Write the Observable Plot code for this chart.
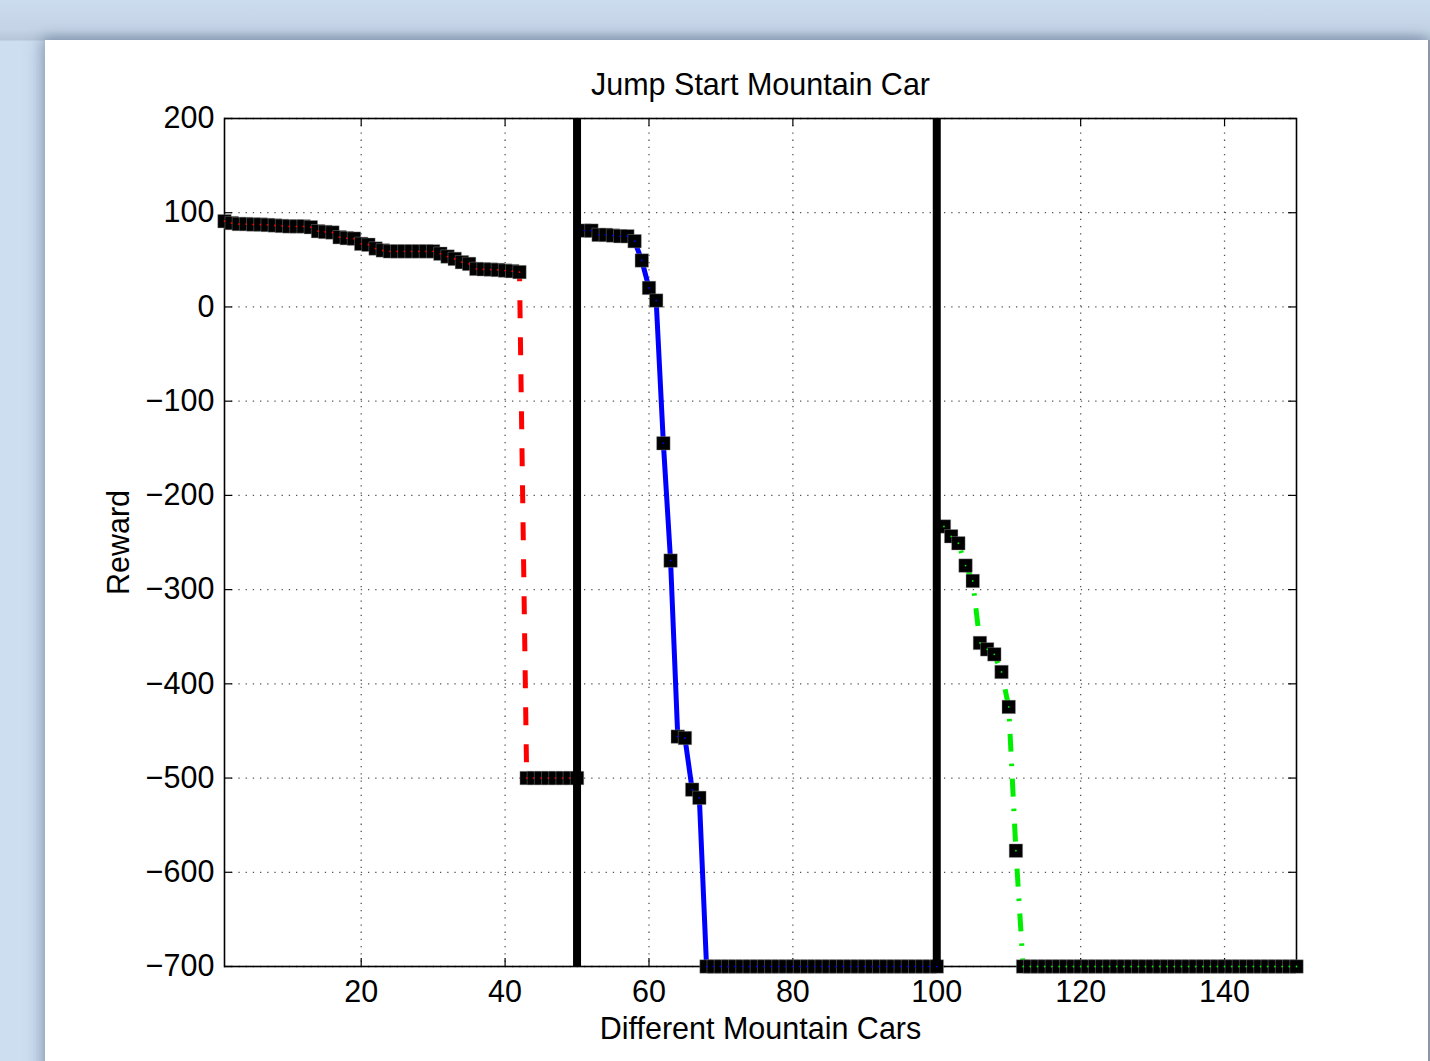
<!DOCTYPE html>
<html>
<head>
<meta charset="utf-8">
<script src="https://cdn.jsdelivr.net/npm/d3@7"></script>
<script src="https://cdn.jsdelivr.net/npm/@observablehq/plot@0.6"></script>
<style>
  html, body { margin: 0; padding: 0; }
  body {
    width: 1430px; height: 1061px; overflow: hidden; position: relative;
    background: linear-gradient(to bottom, #cbdcee 0px, #c4d4e6 30px, #b6c6d8 40px, #cddef0 41px);
    font-family: "Liberation Sans", Arial, Helvetica, sans-serif;
  }
  #panel {
    position: absolute; left: 45px; top: 40px; width: 1383px; height: 1040px;
    background: #fff;
    box-shadow: -6px 0 14px rgba(90,110,140,0.35), 0 -4px 10px rgba(90,110,140,0.35), 2px 0 0 #9aa3ad;
  }
  #chart { position: absolute; left: 0; top: 0; }
</style>
</head>
<body>
<div id="panel"><div id="chart"></div></div>
<script>
// ---- data ----
const xStart1 = 1, xStart2 = 51, xStart3 = 101;
const redValues = [
  91, 89, 88, 88, 87.5, 87.5, 87, 86.5, 86, 85.5,
  85.5, 85.5, 84.6, 80.4, 79.6, 79, 74, 73, 72.5, 67,
  66, 62, 60, 59, 59, 59, 59, 59, 59, 59,
  56.5, 53.5, 51, 47.5, 45.7, 40.4, 40, 39.7, 39.3, 38.6,
  38, 37, -500, -500, -500, -500, -500, -500, -500, -500
];
const blueValues = [
  81, 81, 76.5, 76.5, 75.8, 75.1, 75, 69.8, 49.3, 20.2,
  6.8, -144.7, -269.2, -456, -457.5, -512.3, -521, -700, -700, -700,
  -700, -700, -700, -700, -700, -700, -700, -700, -700, -700,
  -700, -700, -700, -700, -700, -700, -700, -700, -700, -700,
  -700, -700, -700, -700, -700, -700, -700, -700, -700, -700
];
const greenValues = [
  -233, -243.4, -250.8, -274.5, -290.8, -356.6, -363.4, -368.7, -387.4, -424.5,
  -577.1, -700, -700, -700, -700, -700, -700, -700, -700, -700,
  -700, -700, -700, -700, -700, -700, -700, -700, -700, -700,
  -700, -700, -700, -700, -700, -700, -700, -700, -700, -700,
  -700, -700, -700, -700, -700, -700, -700, -700, -700, -700
];
const separators = [50, 100];
const xTicks = [20, 40, 60, 80, 100, 120, 140];
const yTicks = [-700, -600, -500, -400, -300, -200, -100, 0, 100, 200];
const titleText = "Jump Start Mountain Car";
const xLabel = "Different Mountain Cars";
const yLabel = "Reward";

// ---- build table ----
const toRows = (vals, start, series) => vals.map((v, i) => ({x: start + i, y: v, series}));
const red = toRows(redValues, xStart1, "red");
const blue = toRows(blueValues, xStart2, "blue");
const green = toRows(greenValues, xStart3, "green");
const all = [...red, ...blue, ...green];
const colors = {red: "#ff0000", blue: "#0000ff", green: "#00ee00"};

const W = 1383, H = 1021;
const mL = 179, mR = 132, mT = 78, mB = 95;
const fw = W - mL - mR, fh = H - mT - mB;
const FS = 30.5;

const chart = Plot.plot({
  width: W, height: H,
  marginLeft: mL, marginRight: mR, marginTop: mT, marginBottom: mB,
  style: {fontFamily: '"Liberation Sans", Arial, Helvetica, sans-serif', background: "transparent", overflow: "visible"},
  x: {domain: [1, 150]},
  y: {domain: [-700, 200]},
  marks: [
    // dotted grid
    Plot.ruleX(xTicks, {x: d => d, stroke: "#555", strokeWidth: 1.3, strokeDasharray: "1.3,5.9"}),
    Plot.ruleY(yTicks, {y: d => d, stroke: "#555", strokeWidth: 1.3, strokeDasharray: "1.3,5.9"}),
    // inward ticks
    Plot.ruleX(xTicks, {x: d => d, insetTop: fh - 8, stroke: "#000", strokeWidth: 1.2}),
    Plot.ruleX(xTicks, {x: d => d, insetBottom: fh - 8, stroke: "#000", strokeWidth: 1.2}),
    Plot.ruleY(yTicks, {y: d => d, insetRight: fw - 8, stroke: "#000", strokeWidth: 1.2}),
    Plot.ruleY(yTicks, {y: d => d, insetLeft: fw - 8, stroke: "#000", strokeWidth: 1.2}),
    Plot.frame({stroke: "#000", strokeWidth: 1.6}),
    Plot.axisX(xTicks, {anchor: "bottom", tickSize: 0, tickPadding: 14, fontSize: FS, label: null, fill: "#000"}),
    Plot.axisY(yTicks, {anchor: "left", tickSize: 0, tickPadding: 10, fontSize: FS, label: null, fill: "#000"}),
    // series lines
    Plot.line(red, {x: "x", y: "y", stroke: colors.red, strokeWidth: 5, strokeDasharray: "18,19", strokeLinecap: "butt"}),
    Plot.line(blue, {x: "x", y: "y", stroke: colors.blue, strokeWidth: 5}),
    Plot.line(green, {x: "x", y: "y", stroke: colors.green, strokeWidth: 5, strokeDasharray: "18,12,2.5,12.5", strokeLinecap: "butt"}),
    // square markers
    Plot.dot(all, {x: "x", y: "y", symbol: "square", r: 7.6, fill: "#000", stroke: "#999", strokeWidth: 0.4}),
    Plot.dot(all, {x: "x", y: "y", r: 0.9, fill: d => colors[d.series], stroke: "none"}),
    // separators
    Plot.ruleX(separators, {x: d => d, stroke: "#000", strokeWidth: 8}),
    // texts
    Plot.text([titleText], {frameAnchor: "top", dy: -24, lineAnchor: "bottom", textAnchor: "middle", fontSize: FS, fill: "#000"}),
    Plot.text([xLabel], {frameAnchor: "bottom", dy: 72, lineAnchor: "bottom", textAnchor: "middle", fontSize: FS, fill: "#000"}),
    Plot.text([yLabel], {frameAnchor: "left", dx: -96, rotate: -90, lineAnchor: "bottom", textAnchor: "middle", fontSize: FS, fill: "#000"})
  ]
});
document.getElementById("chart").appendChild(chart);
</script>
</body>
</html>
